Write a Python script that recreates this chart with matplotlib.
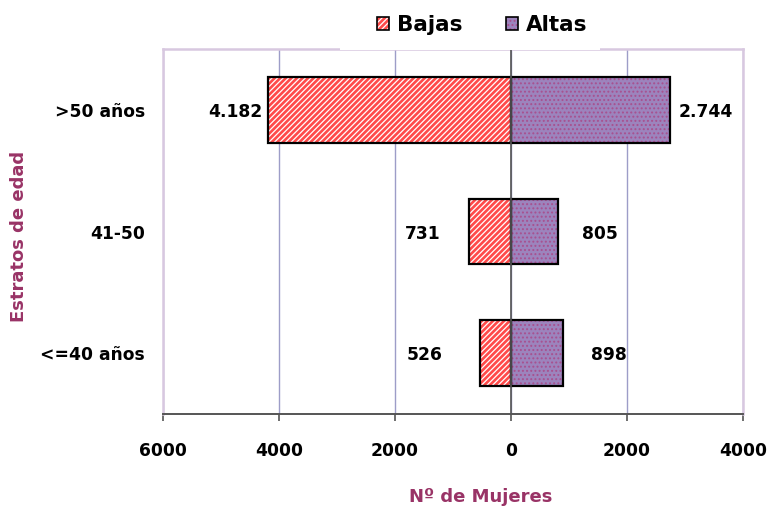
import matplotlib.pyplot as plt
import numpy as np
from matplotlib.patches import Patch, Rectangle

plt.rcParams['font.family'] = ['DejaVu Sans']
plt.rcParams['font.weight'] = 'bold'
plt.rcParams['hatch.linewidth'] = 0.9

# Datos
estratos = ['<=40 años', '41-50', '>50 años']
bajas = [526, 731, 4182]
altas = [898, 805, 2744]
etiq_bajas = ['526', '731', '4.182']
etiq_altas = ['898', '805', '2.744']
xticks = [-6000, -4000, -2000, 0, 2000, 4000]
xticklabels = ['6000', '4000', '2000', '0', '2000', '4000']

# desplazamiento de las etiquetas (pixeles)
off_bajas = [-56, -46, -33]
off_altas = [46, 42, 36]

rojo = '#ff4a4a'
morado = '#9c84bd'
punto = '#a8508f'
titulo = '#993366'
borde = '#d8c8e0'
fs = 12.3

fig = plt.figure(figsize=(7.68, 5.11), dpi=100)
ax = fig.add_axes([163 / 768, 1 - 414 / 511, 580 / 768, 365 / 511])

y = np.arange(len(estratos))
h = 0.54
neg = -np.array(bajas)

# barras: relleno con trama y borde negro encima
ax.barh(y, neg, h, color=rojo, edgecolor='white', hatch='//////', linewidth=0, zorder=3)
ax.barh(y, neg, h, fill=False, edgecolor='black', linewidth=1.6, zorder=4)
ax.barh(y, altas, h, color=morado, edgecolor=punto, hatch='....', linewidth=0, zorder=3)
ax.barh(y, altas, h, fill=False, edgecolor='black', linewidth=1.6, zorder=4)

for i in range(len(estratos)):
    ax.annotate(etiq_bajas[i], (neg[i], y[i]), xytext=(off_bajas[i], -2),
                textcoords='offset pixels', ha='center', va='center', fontsize=fs)
    ax.annotate(etiq_altas[i], (altas[i], y[i]), xytext=(off_altas[i], -2),
                textcoords='offset pixels', ha='center', va='center', fontsize=fs)

ax.axvline(0, color='#555555', linewidth=1.2, zorder=5)

ax.set_xlim(-6000, 4000)
ax.set_ylim(-0.5, 2.5)
ax.set_xticks(xticks)
ax.set_xticklabels(xticklabels, fontsize=fs)
ax.set_yticks(y)
ax.set_yticklabels(estratos, fontsize=fs)
ax.tick_params(axis='y', length=0, pad=13)
ax.tick_params(axis='x', length=5, width=1.2, color='#555555', pad=15)

ax.grid(axis='x', color='#9d9dc8', linewidth=1)
ax.set_axisbelow(True)
for s in ['top', 'left', 'right']:
    ax.spines[s].set_color(borde)
    ax.spines[s].set_linewidth(1.8)
ax.spines['bottom'].set_color('#555555')
ax.spines['bottom'].set_linewidth(1.4)

fig.text(481 / 768, 1 - 497 / 511, 'Nº de Mujeres', color=titulo, fontsize=13,
         ha='center', va='center')
fig.text(19 / 768, 1 - 236 / 511, 'Estratos de edad', color=titulo, fontsize=13,
         ha='center', va='center', rotation=90)

# caja blanca de la leyenda, tapa el borde superior
fig.add_artist(Rectangle((340 / 768, 1 - 50.5 / 511), 260 / 768, 50.5 / 511,
                         transform=fig.transFigure, facecolor='white',
                         edgecolor='none', zorder=4))

# leyenda
hb = (Patch(facecolor=rojo, edgecolor='white', hatch='//////', linewidth=0),
      Patch(fill=False, edgecolor='black', linewidth=1.2))
ha_ = (Patch(facecolor=morado, edgecolor=punto, hatch='....', linewidth=0),
       Patch(fill=False, edgecolor='black', linewidth=1.2))
leg = fig.legend([hb, ha_], ['Bajas', 'Altas'], loc='center',
                 bbox_to_anchor=(482 / 768, 1 - 25 / 511), ncol=2, frameon=False,
                 fontsize=15.5, handlelength=0.6, handleheight=0.6, handletextpad=0.35,
                 columnspacing=2.0, borderpad=0.5)
leg.set_zorder(5)

fig.savefig('out.png', dpi=100)
